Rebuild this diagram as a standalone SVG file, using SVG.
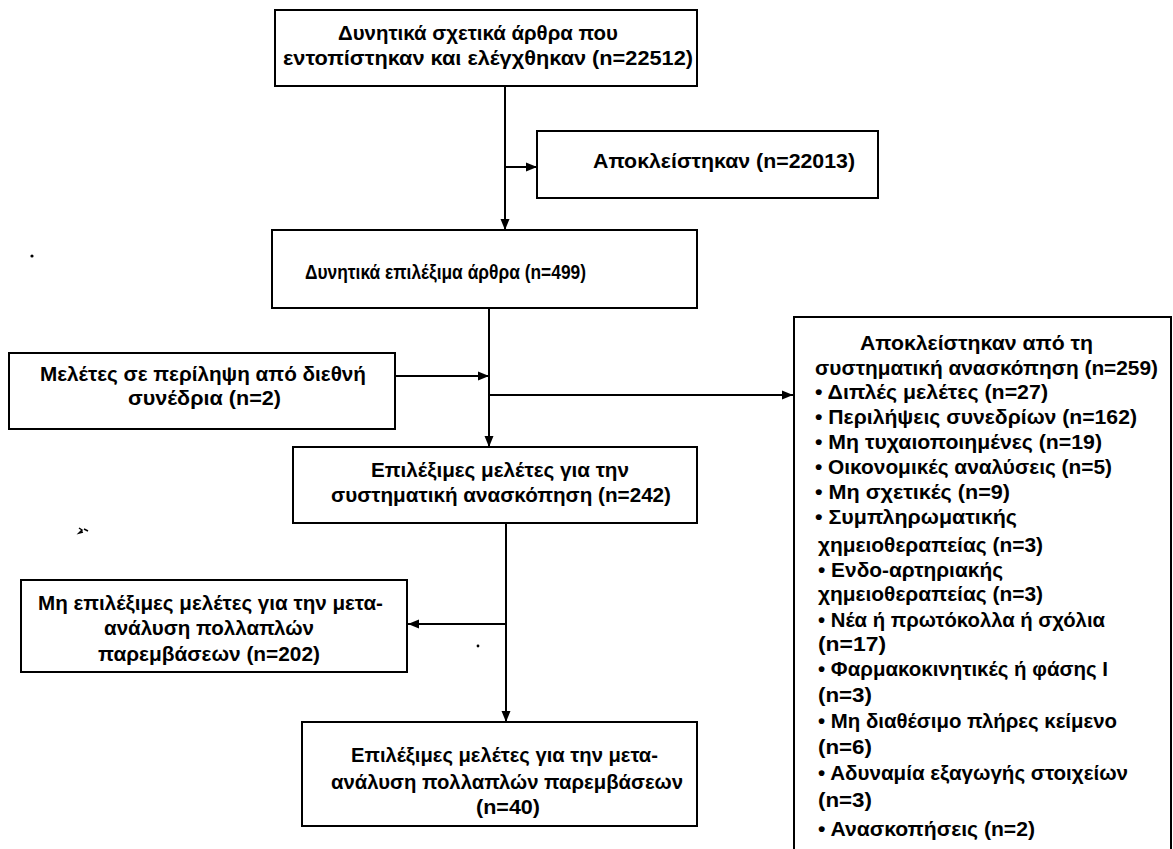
<svg xmlns="http://www.w3.org/2000/svg" width="1173" height="849" viewBox="0 0 1173 849">
<style>
.box{fill:#fff;stroke:#000;stroke-width:2}
.t{font-family:"Liberation Sans",Arial,sans-serif;font-weight:bold;font-size:19.5px;fill:#000}
.r{font-size:20.5px}
.c{stroke:#000;stroke-width:2;fill:none;marker-end:url(#ah)}
</style>
<defs>
<marker id="ah" markerUnits="userSpaceOnUse" markerWidth="12" markerHeight="10" refX="11" refY="5" orient="auto">
<path d="M0,0.5 L11,5 L0,9.5 z" fill="#000"/>
</marker>
</defs>
<rect width="1173" height="849" fill="#fff"/>
<g id="connectors">
<path class="c" d="M505,86 V230"/>
<path class="c" d="M505,167 H537"/>
<path class="c" d="M489,308 V447"/>
<path class="c" d="M395,376 H489"/>
<path class="c" d="M489,395 H793"/>
<path class="c" d="M506,523 V722"/>
<path class="c" d="M506,624 H408"/>
</g>
<g id="n1">
<rect class="box" x="275" y="10" width="422" height="76"/>
<text class="t" font-size="21" x="338" y="40" textLength="280" lengthAdjust="spacingAndGlyphs">Δυνητικά σχετικά άρθρα που</text>
<text class="t" font-size="21" x="283" y="65" textLength="410" lengthAdjust="spacingAndGlyphs">εντοπίστηκαν και ελέγχθηκαν (n=22512)</text>
</g>
<g id="n2">
<rect class="box" x="537" y="131" width="341" height="67"/>
<text class="t" font-size="21" x="593" y="168" textLength="262" lengthAdjust="spacingAndGlyphs">Αποκλείστηκαν (n=22013)</text>
</g>
<g id="n3">
<rect class="box" x="272" y="230" width="425" height="78"/>
<text class="t" font-size="22" x="305" y="279" textLength="281" lengthAdjust="spacingAndGlyphs">Δυνητικά επιλέξιμα άρθρα (n=499)</text>
</g>
<g id="n4">
<rect class="box" x="9" y="353" width="386" height="76"/>
<text class="t" x="40" y="381" textLength="326" lengthAdjust="spacingAndGlyphs">Μελέτες σε περίληψη από διεθνή</text>
<text class="t" x="128" y="405" textLength="153" lengthAdjust="spacingAndGlyphs">συνέδρια (n=2)</text>
</g>
<g id="n5">
<rect class="box" x="293" y="447" width="404" height="76"/>
<text class="t" x="371" y="477" textLength="258" lengthAdjust="spacingAndGlyphs">Επιλέξιμες μελέτες για την</text>
<text class="t" x="331" y="502" textLength="340" lengthAdjust="spacingAndGlyphs">συστηματική ανασκόπηση (n=242)</text>
</g>
<g id="n6">
<rect class="box" x="21" y="580" width="386" height="92"/>
<text class="t" x="38" y="610" textLength="345" lengthAdjust="spacingAndGlyphs">Μη επιλέξιμες μελέτες για την μετα-</text>
<text class="t" x="104" y="635" textLength="210" lengthAdjust="spacingAndGlyphs">ανάλυση πολλαπλών</text>
<text class="t" x="98" y="661" textLength="222" lengthAdjust="spacingAndGlyphs">παρεμβάσεων (n=202)</text>
</g>
<g id="n7">
<rect class="box" x="302" y="722" width="395" height="104"/>
<text class="t" x="351" y="762" textLength="307" lengthAdjust="spacingAndGlyphs">Επιλέξιμες μελέτες για την μετα-</text>
<text class="t" x="331" y="789" textLength="352" lengthAdjust="spacingAndGlyphs">ανάλυση πολλαπλών παρεμβάσεων</text>
<text class="t" x="476" y="814" textLength="64" lengthAdjust="spacingAndGlyphs">(n=40)</text>
</g>
<g id="n8">
<path d="M794,849 V317 H1171 V849" fill="#fff" stroke="#000" stroke-width="2"/>
<text class="t r" x="860" y="350" textLength="233" lengthAdjust="spacingAndGlyphs">Αποκλείστηκαν από τη</text>
<text class="t r" x="815" y="375" textLength="343" lengthAdjust="spacingAndGlyphs">συστηματική ανασκόπηση (n=259)</text>
<text class="t r" x="815" y="399" textLength="233" lengthAdjust="spacingAndGlyphs">• Διπλές μελέτες (n=27)</text>
<text class="t r" x="815" y="424" textLength="322" lengthAdjust="spacingAndGlyphs">• Περιλήψεις συνεδρίων (n=162)</text>
<text class="t r" x="815" y="449" textLength="287" lengthAdjust="spacingAndGlyphs">• Μη τυχαιοποιημένες (n=19)</text>
<text class="t r" x="815" y="474" textLength="297" lengthAdjust="spacingAndGlyphs">• Οικονομικές αναλύσεις (n=5)</text>
<text class="t r" x="815" y="499" textLength="195" lengthAdjust="spacingAndGlyphs">• Μη σχετικές (n=9)</text>
<text class="t r" x="815" y="524" textLength="202" lengthAdjust="spacingAndGlyphs">• Συμπληρωματικής</text>
<text class="t r" x="818" y="552" textLength="225" lengthAdjust="spacingAndGlyphs">χημειοθεραπείας (n=3)</text>
<text class="t r" x="818" y="577" textLength="185" lengthAdjust="spacingAndGlyphs">• Ενδο-αρτηριακής</text>
<text class="t r" x="818" y="601" textLength="225" lengthAdjust="spacingAndGlyphs">χημειοθεραπείας (n=3)</text>
<text class="t r" x="818" y="627" textLength="287" lengthAdjust="spacingAndGlyphs">• Νέα ή πρωτόκολλα ή σχόλια</text>
<text class="t r" x="818" y="651" textLength="68" lengthAdjust="spacingAndGlyphs">(n=17)</text>
<text class="t r" x="818" y="676" textLength="290" lengthAdjust="spacingAndGlyphs">• Φαρμακοκινητικές ή φάσης Ι</text>
<text class="t r" x="818" y="702" textLength="54" lengthAdjust="spacingAndGlyphs">(n=3)</text>
<text class="t r" x="818" y="728" textLength="299" lengthAdjust="spacingAndGlyphs">• Μη διαθέσιμο πλήρες κείμενο</text>
<text class="t r" x="818" y="754" textLength="54" lengthAdjust="spacingAndGlyphs">(n=6)</text>
<text class="t r" x="818" y="780" textLength="310" lengthAdjust="spacingAndGlyphs">• Αδυναμία εξαγωγής στοιχείων</text>
<text class="t r" x="818" y="807" textLength="54" lengthAdjust="spacingAndGlyphs">(n=3)</text>
<text class="t r" x="818" y="836" textLength="217" lengthAdjust="spacingAndGlyphs">• Ανασκοπήσεις (n=2)</text>
</g>
<g id="specks" fill="#000">
<circle cx="32" cy="256" r="1.6"/>
<circle cx="478" cy="646" r="1.4"/>
<path d="M79,528 l3,2 l-3,3 l4,-1 M84,529 l4,2" stroke="#000" stroke-width="1.5" fill="none"/>
</g>
</svg>
